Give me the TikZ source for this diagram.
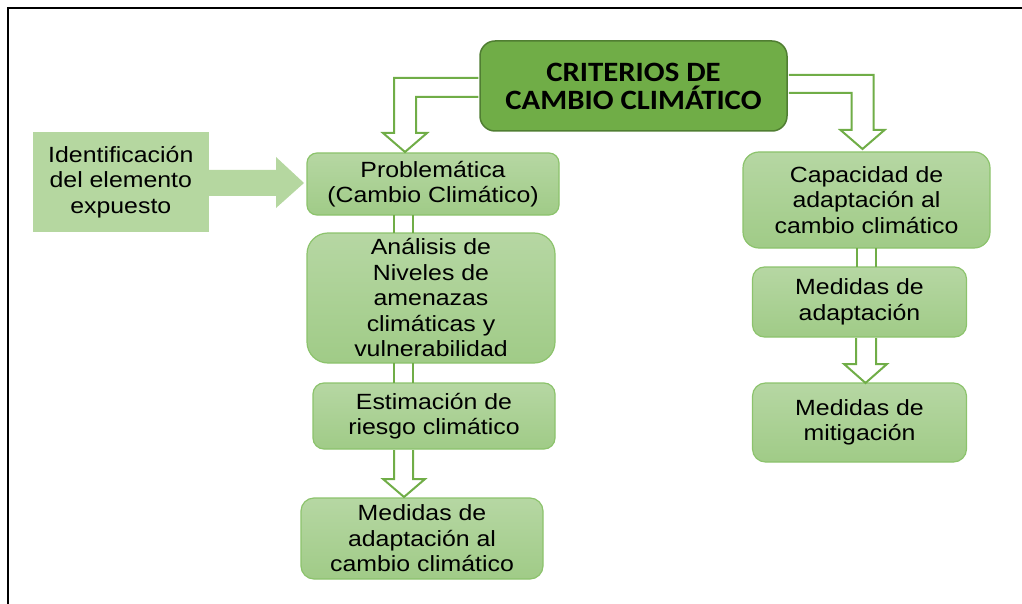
\documentclass[tikz,border=0pt]{standalone}
\usepackage{xcolor}
\usepackage{fontspec}
\setmainfont{Liberation Sans}[FakeStretch=1.13]
\newfontfamily\headfont{Carlito}[FakeStretch=1.1]
\usepackage{tikz}
\usetikzlibrary{arrows.meta,positioning,calc}
\definecolor{darkgrn}{HTML}{70AD47}
\definecolor{darkedge}{HTML}{507E32}
\definecolor{paletop}{HTML}{B6D7A3}
\definecolor{palebot}{HTML}{A0CB87}
\definecolor{paleedge}{HTML}{8CC36C}
\definecolor{idgrn}{HTML}{B5D7A0}

\begin{document}
\begin{tikzpicture}[
  x=1pt, y=-1pt,
  font=\fontsize{22}{25.5}\selectfont,
  head/.style={draw=darkedge, fill=darkgrn, line width=1.5pt, rounded corners=15pt, align=center, inner sep=0pt,
    minimum width=307pt, minimum height=90pt, font=\headfont\bfseries\fontsize{28}{28}\selectfont},
  box/.style={draw=paleedge, top color=paletop, bottom color=palebot, line width=1.2pt, align=center, inner sep=0pt, outer sep=0pt},
  idbox/.style={fill=idgrn, align=center, inner sep=0pt, minimum width=176pt, minimum height=100pt},
  hollow/.style={draw=darkgrn, fill=white, line width=2pt},
  twin/.style={draw=darkgrn, line width=2pt}
]
\useasboundingbox (0,0) rectangle (1022,604);
\draw[line width=2.5pt] (8,604) -- (8,8) -- (1022,8);

\node[head] (crit) at (633.5,86) {CRITERIOS DE\\CAMBIO CLIMÁTICO};
\node[box, rounded corners=10pt, minimum width=252pt, minimum height=62pt] (prob) at (433,184) {Problemática\\(Cambio Climático)};
\node[box, rounded corners=21pt, minimum width=248pt, minimum height=130pt, below=18pt of prob, xshift=-2pt] (anal)
  {Análisis de\\Niveles de\\amenazas\\climáticas y\\vulnerabilidad};
\node[box, rounded corners=11pt, minimum width=242pt, minimum height=66pt, below=20pt of anal, xshift=3pt] (est)
  {Estimación de\\riesgo climático};
\node[box, rounded corners=13pt, minimum width=242pt, minimum height=81pt, below=49pt of est, xshift=-12pt] (medl)
  {Medidas de\\adaptación al\\cambio climático};
\node[idbox, left=98pt of prob, yshift=2pt] (ident) {Identificación\\del elemento\\expuesto};
\node[box, rounded corners=16pt, minimum width=247pt, minimum height=96pt] (cap) at (866.5,200)
  {Capacidad de\\adaptación al\\cambio climático};
\node[box, rounded corners=12pt, minimum width=214pt, minimum height=70pt, below=19pt of cap, xshift=-7pt] (meda)
  {Medidas de\\adaptación};
\node[box, rounded corners=13pt, minimum width=214pt, minimum height=79pt, below=46pt of meda] (mit)
  {Medidas de\\mitigación};

\fill[idgrn] ($(ident.east)+(0,-12)$) -- ++(67,0) -- ++(0,-13) -- ($(prob.west)+(-3,-1)$) -- ++(-28,25) -- ++(0,-12) -- ++(-67,0) -- cycle;
\draw[hollow] ($(crit.west)+(-1,-8)$) -| ($(prob.north)+(-39,-20)$) -- ++(-11,0) -- ($(prob.north)+(-28,-1)$)
  -- ++(22,-19) -- ++(-11,0) |- ($(crit.west)+(-1,11)$);
\draw[hollow] ($(crit.east)+(1,-11)$) -| ($(cap.north)+(7,-22)$) -- ++(11,0) -- ($(cap.north)+(-4,-3)$)
  -- ++(-22,-19) -- ++(11,0) |- ($(crit.east)+(1,7)$);
\draw[twin] ($(prob.south)+(-39,0)$) -- ($(anal.north)+(-37,0)$);
\draw[twin] ($(prob.south)+(-20,0)$) -- ($(anal.north)+(-18,0)$);
\draw[twin] ($(anal.south)+(-37,0)$) -- ($(est.north)+(-40,0)$);
\draw[twin] ($(anal.south)+(-18,0)$) -- ($(est.north)+(-21,0)$);
\draw[hollow] ($(est.south)+(-40,1)$) -- ++(0,29) -- ++(-11,0) -- ($(medl.north)+(-18,-1)$) -- ++(21,-18) -- ++(-12,0)
  -- ($(est.south)+(-21,1)$);
\draw[twin] ($(cap.south)+(-9.5,0)$) -- ($(meda.north)+(-2.5,0)$);
\draw[twin] ($(cap.south)+(9.5,0)$) -- ($(meda.north)+(16.5,0)$);
\draw[hollow] ($(meda.south)+(-3.5,1)$) -- ++(0,26) -- ++(-12,0) -- ($(mit.north)+(6,0)$) -- ++(21.5,-19) -- ++(-11,0)
  -- ($(meda.south)+(16.5,1)$);
\end{tikzpicture}
\end{document}
